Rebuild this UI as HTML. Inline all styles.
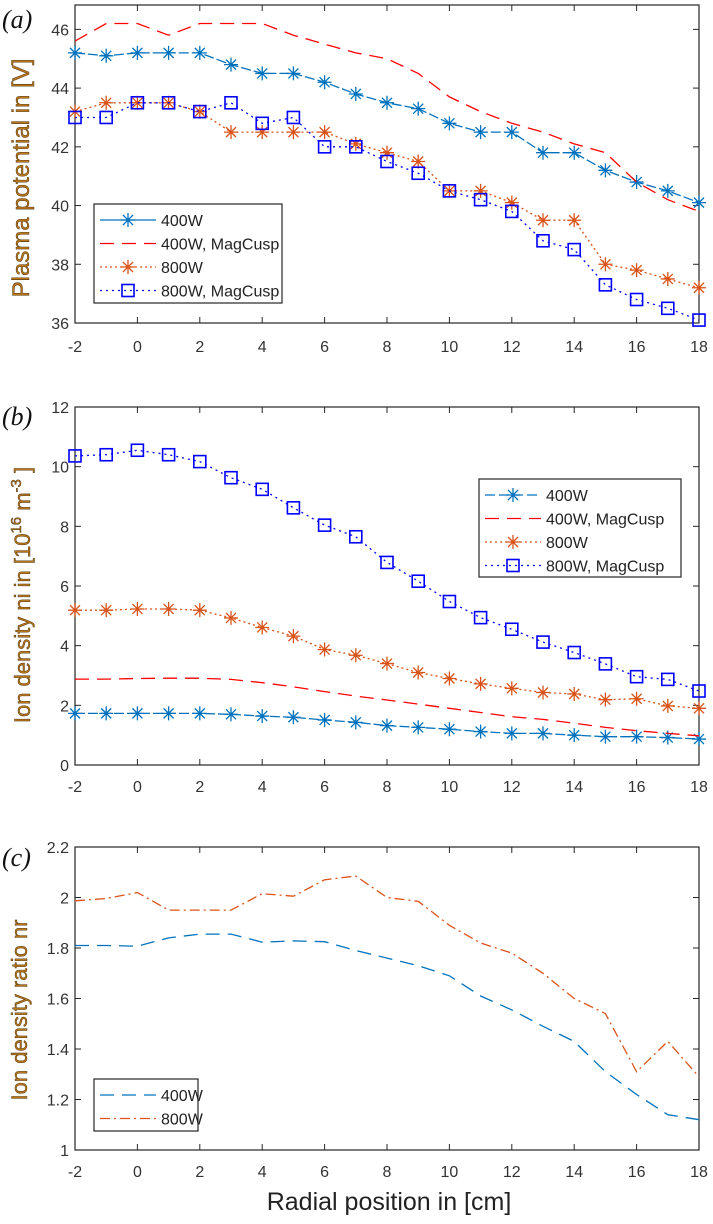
<!DOCTYPE html>
<html><head><meta charset="utf-8"><style>
body{margin:0;background:#fff;}
svg text{font-family:"Liberation Sans",sans-serif;}
</style></head><body>
<svg id="s" width="713" height="1219" viewBox="0 0 713 1219" xmlns="http://www.w3.org/2000/svg"></svg>
<script>
const xCats=[-2,-1,0,1,2,3,4,5,6,7,8,9,10,11,12,13,14,15,16,17,18];
const xTicks=[-2,0,2,4,6,8,10,12,14,16,18];
const aTicks=[36,38,40,42,44,46];
const bTicks=[0,2,4,6,8,10,12];
const cTicks=[1,1.2,1.4,1.6,1.8,2,2.2];
const cTickLabels=["1","1.2","1.4","1.6","1.8","2","2.2"];
const a400=[45.2,45.1,45.2,45.2,45.2,44.8,44.5,44.5,44.2,43.8,43.5,43.3,42.8,42.5,42.5,41.8,41.8,41.2,40.8,40.5,40.1];
const a400mc=[45.6,46.2,46.2,45.8,46.2,46.2,46.2,45.8,45.5,45.2,45.0,44.5,43.7,43.2,42.8,42.5,42.1,41.8,40.8,40.2,39.8];
const a800=[43.2,43.5,43.5,43.5,43.2,42.5,42.5,42.5,42.5,42.1,41.8,41.5,40.5,40.5,40.1,39.5,39.5,38.0,37.8,37.5,37.2];
const a800mc=[43.0,43.0,43.5,43.5,43.2,43.5,42.8,43.0,42.0,42.0,41.5,41.1,40.5,40.2,39.8,38.8,38.5,37.3,36.8,36.5,36.1];
const b400=[1.73,1.73,1.73,1.73,1.73,1.7,1.64,1.6,1.51,1.43,1.32,1.26,1.2,1.12,1.06,1.06,1.0,0.95,0.95,0.92,0.87];
const b400mc=[2.88,2.88,2.9,2.91,2.91,2.87,2.76,2.62,2.46,2.31,2.18,2.04,1.9,1.76,1.62,1.53,1.4,1.26,1.15,1.06,0.98];
const b800=[5.19,5.19,5.23,5.23,5.19,4.93,4.61,4.32,3.87,3.68,3.4,3.1,2.9,2.72,2.57,2.43,2.38,2.19,2.22,1.98,1.9];
const b800mc=[10.36,10.4,10.55,10.4,10.17,9.63,9.24,8.62,8.04,7.65,6.79,6.16,5.48,4.94,4.55,4.12,3.77,3.39,2.96,2.87,2.48];
const c400=[1.81,1.81,1.807,1.84,1.855,1.855,1.823,1.828,1.825,1.79,1.76,1.73,1.69,1.61,1.555,1.49,1.43,1.31,1.22,1.14,1.12];
const c800=[1.987,1.996,2.02,1.95,1.95,1.95,2.015,2.005,2.07,2.085,2.0,1.985,1.89,1.82,1.78,1.70,1.6,1.54,1.31,1.43,1.29];

const S=document.getElementById('s');const NS='http://www.w3.org/2000/svg';
function mk(t,at,parent){const e=document.createElementNS(NS,t);for(const k in at)e.setAttribute(k,at[k]);(parent||S).appendChild(e);return e;}
const X0=75,X1=699;
const xs=v=>X0+(v+2)/20*(X1-X0);
const C={b:'#0072BD',r:'#FF0000',o:'#D95319',q:'#0000FF'};
function panel(name,top,bot,ymin,ymax,ticks,tickLabels,labelY){
  const ys=v=>bot-(v-ymin)/(ymax-ymin)*(bot-top);
  const g=mk('g',{});
  
  
  const fr=mk('rect',{x:X0,y:top,width:X1-X0,height:bot-top,fill:'none',stroke:'#262626','stroke-width':1.2},g);
  
  
  xTicks.forEach(t=>{const x=xs(t);
    mk('line',{x1:x,x2:x,y1:bot,y2:bot-6,stroke:'#262626'},g);
    mk('line',{x1:x,x2:x,y1:top,y2:top+6,stroke:'#262626'},g);
    const tx=mk('text',{x:x,y:labelY,'font-size':16,fill:'#333','text-anchor':'middle'},g);tx.textContent=t;
    
    
  });
  ticks.forEach((t,i)=>{const y=ys(t);
    mk('line',{x1:X0,x2:X0+6,y1:y,y2:y,stroke:'#262626'},g);
    mk('line',{x1:X1,x2:X1-6,y1:y,y2:y,stroke:'#262626'},g);
    const tx=mk('text',{x:X0-6,y:y+6,'font-size':16,fill:'#333','text-anchor':'end'},g);tx.textContent=tickLabels?tickLabels[i]:t;
    
    
  });
  return {g,ys};
}
function series(p,name,vals,col,dash,marker){
  const pts=vals.map((v,i)=>xs(xCats[i]).toFixed(1)+','+p.ys(v).toFixed(1)).join(' ');
  const l=mk('polyline',{points:pts,fill:'none',stroke:col,'stroke-width':1.3,'stroke-dasharray':dash},p.g);
  
  
  if(marker)vals.forEach((v,i)=>{const m=drawMarker(p.g,marker,xs(xCats[i]),p.ys(v),col);
    
    });
}
function drawMarker(g,type,x,y,col){
  const mg=mk('g',{},g);
  if(type==='star'){const r=7,d=5;
    mk('path',{d:`M${x-r},${y}H${x+r}M${x},${y-r}V${y+r}M${x-d},${y-d}L${x+d},${y+d}M${x-d},${y+d}L${x+d},${y-d}`,stroke:col,'stroke-width':1.3,fill:'none'},mg);
  }else{mk('rect',{x:x-6,y:y-6,width:12,height:12,fill:'none',stroke:col,'stroke-width':1.6},mg);}
  return mg;
}
function legend(name,x,y,w,h,entries){
  const g=mk('g',{});
  
  
  mk('rect',{x:x,y:y,width:w,height:h,fill:'#fff',stroke:'#262626','stroke-width':1.2},g);
  entries.forEach((e,i)=>{const cy=y+16+i*23.5;
    const eg=mk('g',{},g);
    
    
    mk('line',{x1:x+6,x2:x+62,y1:cy,y2:cy,stroke:e[1],'stroke-width':1.3,'stroke-dasharray':e[2]},eg);
    if(e[3])drawMarker(eg,e[3],x+34,cy,e[1]);
    const t=mk('text',{x:x+67,y:cy+6,'font-size':16,fill:'#222'},eg);t.textContent=e[0];
  });
}
function ytitle(name,cx,cy,html,fs){
  const t=mk('text',{x:0,y:0,transform:`translate(${cx},${cy}) rotate(-90)`,'font-size':fs,fill:'#b87418','text-anchor':'middle',stroke:'#3a2608','stroke-width':0.4},S);
  t.innerHTML=html;
  
  
}
function plabel(name,x,y,s){const t=mk('text',{x:x,y:y,'font-size':26,'font-style':'italic',fill:'#111',style:'font-family:"Liberation Serif",serif'});t.textContent=s;
  
  }

// Panel a
const pa=panel('panel-a-plasma-potential',5,323,36,46.83,aTicks,null,352);
series(pa,'400w',a400,C.b,'10 3','star');
series(pa,'400w-magcusp',a400mc,C.r,'14 8',null);
series(pa,'800w',a800,C.o,'2 3','star');
series(pa,'800w-magcusp',a800mc,C.q,'2 4','square');
legend('legend-a',94,204,188,99,[['400W',C.b,'',"star"],['400W, MagCusp',C.r,'14 8',null],['800W',C.o,'2 3','star'],['800W, MagCusp',C.q,'2 4','square']]);
ytitle('y-axis-title-a',29,178,'Plasma potential in [V]',24);
plabel('panel-label-a',2,28,'(a)');

// Panel b
const pb=panel('panel-b-ion-density',407,765,0,12,bTicks,null,792);
series(pb,'400w',b400,C.b,'10 3','star');
series(pb,'400w-magcusp',b400mc,C.r,'14 8',null);
series(pb,'800w',b800,C.o,'2 3','star');
series(pb,'800w-magcusp',b800mc,C.q,'2 4','square');
legend('legend-b',479,479,202,98,[['400W',C.b,'10 4','star'],['400W, MagCusp',C.r,'14 8',null],['800W',C.o,'2 3','star'],['800W, MagCusp',C.q,'2 4','square']]);
ytitle('y-axis-title-b',30,595,'Ion density ni in [10<tspan dy="-9" font-size="15">16</tspan><tspan dy="9"> m</tspan><tspan dy="-9" font-size="15">-3</tspan><tspan dy="9"> ]</tspan>',22);
plabel('panel-label-b',2,425,'(b)');

// Panel c
const pc=panel('panel-c-ion-density-ratio',847,1150,1,2.2,cTicks,cTickLabels,1177);
series(pc,'400w',c400,C.b,'14 8',null);
series(pc,'800w',c800,C.o,'10 4 2 4',null);
legend('legend-c',94,1079,104,52,[['400W',C.b,'14 8',null],['800W',C.o,'10 4 2 4',null]]);
ytitle('y-axis-title-c',27,1010,'Ion density ratio nr',22);
plabel('panel-label-c',2,866,'(c)');
const xt=mk('text',{x:389,y:1210,'font-size':25,fill:'#222','text-anchor':'middle'});xt.textContent='Radial position in [cm]';


</script>
</body></html>
